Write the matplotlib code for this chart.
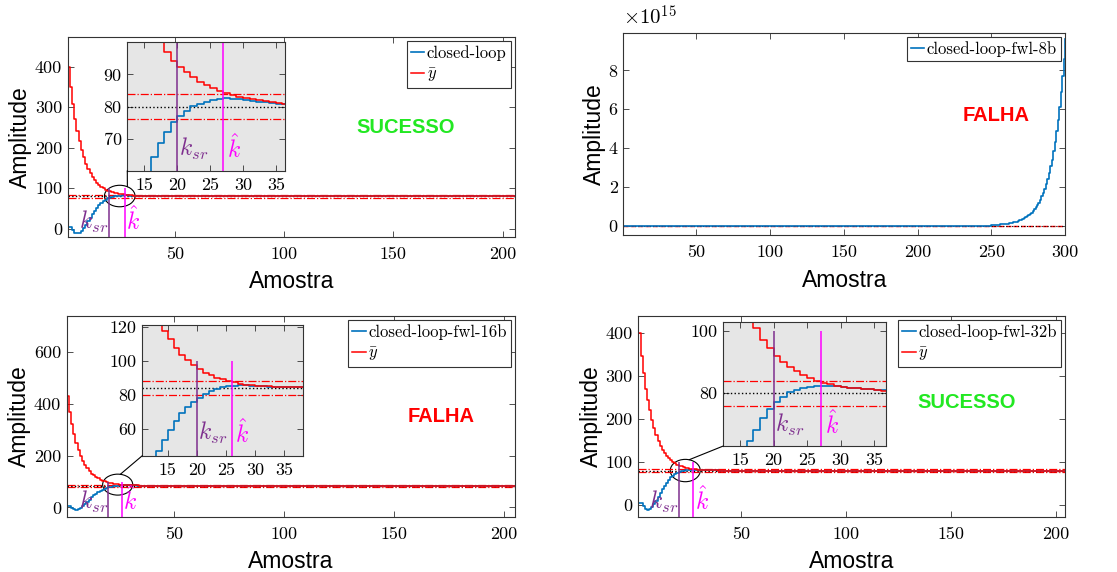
import numpy as np
import matplotlib
matplotlib.use('Agg')
import matplotlib.pyplot as plt
from matplotlib.patches import Ellipse, ConnectionPatch
import warnings
warnings.filterwarnings('ignore')

plt.rcParams['font.family'] = 'cmr10'
plt.rcParams['mathtext.fontset'] = 'cm'
plt.rcParams['axes.formatter.use_mathtext'] = False

# ---------------- data ----------------
# panel 1 : closed-loop (samples k = 1..45, then constant)
cl_y = [5, 4, -3, -9, -11, -10, -5, 2, 10, 19, 28, 37, 45, 52, 58.5, 64.2, 68.6, 72.0,
        75.1, 77.1, 78.7, 80.2, 80.9, 81.4, 82.0, 82.3, 82.5, 82.4, 82.2, 82.0, 81.8,
        81.5, 81.3, 81.1, 80.9, 80.8, 80.7, 80.6, 80.5, 80.4, 80.3, 80.2, 80.2, 80.1, 80.1]
cl_ybar = [400, 350, 308, 272, 242, 216, 194, 176, 161, 148, 137, 128, 120.5, 114,
           108.5, 104, 100.2, 97.0, 94.3, 92.3, 90.6, 89.1, 87.7, 86.6, 85.7, 84.8, 84.1,
           83.5, 83.0, 82.6, 82.2, 81.9, 81.6, 81.3, 81.1, 80.9, 80.8, 80.6, 80.5, 80.4,
           80.3, 80.2, 80.2, 80.1, 80.1]
cl_ref = 80.0

# panel 2 : closed-loop-fwl-8b (x 1e15), samples 250..300, ~0 before
fwl8_k0 = 250
fwl8_y = [0.028, 0.031, 0.035, 0.040, 0.045, 0.050, 0.057, 0.064, 0.072, 0.080, 0.090,
          0.105, 0.115, 0.130, 0.150, 0.165, 0.190, 0.210, 0.235, 0.265, 0.300, 0.335,
          0.375, 0.420, 0.470, 0.530, 0.600, 0.670, 0.750, 0.840, 0.940, 1.06, 1.19,
          1.34, 1.50, 1.70, 1.90, 2.15, 2.40, 2.70, 3.05, 3.40, 3.85, 4.30, 4.85, 5.45,
          6.10, 6.90, 7.70, 8.60, 9.60]

# panel 3 : closed-loop-fwl-16b
f16_y = [5, 4, -3, -8, -10, -8, -3, 4, 12, 21, 30, 38.5, 46.6, 53, 59, 64.6, 69, 72.6,
         75.6, 78.2, 80.6, 82.2, 83.4, 84.2, 84.8, 85.2, 85.4, 85.4, 85.2, 85.0, 84.9,
         84.7, 84.6, 84.5, 84.4, 84.4, 84.3, 84.2, 84.2, 84.1, 84.1, 84.0, 84.0]
f16_ybar = [431, 370, 322, 283, 250, 222, 200, 181, 165, 151, 139, 130.5, 123.5, 117.6,
            112.6, 107.6, 103.6, 100.6, 97.6, 95.0, 93.0, 91.4, 90.0, 89.0, 88.0, 87.2,
            86.5, 85.9, 85.5, 85.2, 85.0, 84.8, 84.7, 84.6, 84.5, 84.4, 84.4, 84.3, 84.2,
            84.2, 84.1, 84.1, 84.0]
f16_ref = 84.0

# panel 4 : closed-loop-fwl-32b
f32_y = [5, 4, -3, -9, -11, -10, -5, 2, 10, 19, 28, 37, 45, 52, 58.5, 64.5, 68.2, 72.0,
         74.9, 77.3, 78.9, 80.3, 81.1, 81.6, 82.0, 82.3, 82.4, 82.4, 82.2, 82.0, 81.8,
         81.6, 81.4, 81.2, 81.0, 80.9, 80.8, 80.6, 80.5, 80.4, 80.3, 80.2, 80.2, 80.1, 80.1]
f32_ybar = [400, 348, 307, 270, 245, 221, 198, 179, 163, 150, 138, 128.5, 120.5, 114,
            108.5, 104, 101.0, 97.1, 94.4, 92.1, 90.1, 88.5, 87.1, 85.9, 84.8, 83.9, 83.4,
            82.9, 82.4, 82.1, 81.8, 81.6, 81.4, 81.2, 81.0, 80.8, 80.7, 80.6, 80.5, 80.4,
            80.3, 80.2, 80.2, 80.1, 80.1]
f32_ref = 80.0

k_sr = [20, 20, 20]
k_hat = [27, 26, 27]
xticks_main = [50, 100, 150, 200]
xticks_inset = [15, 20, 25, 30, 35]

BLUE = '#0072BD'
RED = '#FF0000'
PURPLE = '#7E2F8E'
MAGENTA = '#FF00FF'
GREEN = '#22E822'
SANS = 'Liberation Sans'
W, H = 1117, 572

fig = plt.figure(figsize=(W / 100, H / 100), dpi=100)


def fr(x0, x1, y0, y1):
    return [x0 / W, 1 - y1 / H, (x1 - x0) / W, (y1 - y0) / H]


def style(ax, fs=13, xpad=7, ypad=4):
    ax.tick_params(direction='in', top=True, right=True, length=4, width=0.6,
                   labelsize=fs, color='0.2')
    ax.tick_params(axis='x', pad=xpad)
    ax.tick_params(axis='y', pad=ypad)
    for s in ax.spines.values():
        s.set_color('0.2')
        s.set_linewidth(0.8)


def stairs(ax, vals, end, **kw):
    k = list(range(1, len(vals) + 1)) + [end]
    v = list(vals) + [vals[-1]]
    ax.step(k, v, where='post', **kw)


def refs(ax, ref, x0, x1):
    ax.hlines([ref * 1.05, ref * 0.95], x0, x1, colors=RED, linestyles='-.', lw=0.9)
    ax.hlines(ref, x0, x1, colors='k', linestyles=':', lw=1.0)


def legend(ax):
    leg = ax.legend(loc='upper right', fontsize=12, handlelength=0.8, handletextpad=0.15,
                    borderpad=0.25, labelspacing=0.3, borderaxespad=0.25, fancybox=False,
                    framealpha=1)
    leg.get_frame().set_edgecolor('0.2')
    leg.get_frame().set_linewidth(0.8)


def labels(ax):
    ax.set_xlabel('Amostra', family=SANS, fontsize=16.5, labelpad=6)
    ax.set_ylabel('Amplitude', family=SANS, fontsize=16.5, labelpad=2)


def panel(box, ibox, y, ybar, ref, label, xlim, ylim, yticks, ixlim, iylim, iyticks,
          ksr, khat, ell, ang, status, scol, spos):
    ax = fig.add_axes(fr(*box))
    style(ax)
    refs(ax, ref, xlim[0], xlim[1])
    stairs(ax, y, 207, color=BLUE, lw=1.2, label=label)
    stairs(ax, ybar, 207, color=RED, lw=1.1, label=r'$\bar{y}$')
    ax.vlines(ksr, ylim[0], 100, color=PURPLE, lw=1.1)
    ax.vlines(khat, ylim[0], 100, color=MAGENTA, lw=1.1)
    ax.text(ksr - 0.3, ylim[0] + 0.01 * (ylim[1] - ylim[0]), r'$k_{sr}$', color=PURPLE,
            fontsize=17, ha='right', va='bottom')
    ax.text(khat + 0.8, ylim[0] + 0.01 * (ylim[1] - ylim[0]), r'$\hat{k}$', color=MAGENTA,
            fontsize=17, ha='left', va='bottom')
    e = Ellipse((ell[0], ell[1]), ell[2], ell[3], fill=False, ec='k', lw=0.8)
    ax.add_patch(e)
    ax.set_xlim(*xlim)
    ax.set_ylim(*ylim)
    ax.set_xticks(xticks_main)
    ax.set_yticks(yticks)
    labels(ax)
    legend(ax)
    ax.text(spos[0], spos[1], status, transform=ax.transAxes, color=scol, family=SANS,
            fontweight='bold', fontsize=14.5, ha='center', va='center')

    ia = fig.add_axes(fr(*ibox))
    ia.set_facecolor('#E6E6E6')
    style(ia, fs=13, xpad=5, ypad=4)
    refs(ia, ref, ixlim[0], ixlim[1])
    stairs(ia, y, 207, color=BLUE, lw=1.2)
    stairs(ia, ybar, 207, color=RED, lw=1.1)
    ia.vlines(ksr, 0, 100, color=PURPLE, lw=1.1)
    ia.vlines(khat, 0, 100, color=MAGENTA, lw=1.1)
    ytxt = iylim[0] + 0.17 * (iylim[1] - iylim[0])
    ia.text(ksr + 0.2, ytxt, r'$k_{sr}$', color=PURPLE, fontsize=17, ha='left', va='center')
    ia.text(khat + 0.6, ytxt, r'$\hat{k}$', color=MAGENTA, fontsize=17, ha='left', va='center')
    ia.set_xlim(*ixlim)
    ia.set_ylim(*iylim)
    ia.set_xticks(xticks_inset)
    ia.set_yticks(iyticks)

    t = np.deg2rad(ang)
    p = (ell[0] + ell[2] / 2 * np.cos(t), ell[1] + ell[3] / 2 * np.sin(t))
    con = ConnectionPatch(xyA=p, coordsA=ax.transData, xyB=(0, 0), coordsB=ia.transAxes,
                          color='k', lw=0.8)
    fig.add_artist(con)
    return ax


panel((67.7, 515, 37, 237), (127.3, 285, 42.3, 170.7), cl_y, cl_ybar, cl_ref,
      'closed-loop', (1.0, 205.6), (-20, 473), [0, 100, 200, 300, 400],
      (12.4, 36.4), (60, 100), [70, 80, 90], k_sr[0], k_hat[0],
      (24.8, 81, 14, 53), 60, 'SUCESSO', GREEN, (0.755, 0.55))

panel((66.7, 515, 316, 516.7), (142.3, 303.3, 325, 455.7), f16_y, f16_ybar, f16_ref,
      'closed-loop-fwl-16b', (1.0, 205), (-36, 740), [0, 200, 400, 600],
      (10.6, 38.3), (44, 121), [60, 80, 100, 120], k_sr[1], k_hat[1],
      (24.2, 88, 13.7, 81), 80, 'FALHA', RED, (0.835, 0.5))

panel((638.3, 1065, 316, 516.7), (723.3, 885.7, 321.7, 446), f32_y, f32_ybar, f32_ref,
      'closed-loop-fwl-32b', (0.8, 204.3), (-27, 440), [0, 100, 200, 300, 400],
      (12.5, 36.7), (63, 103), [80, 100], k_sr[2], k_hat[2],
      (23.2, 80.4, 14.3, 52), 75, 'SUCESSO', GREEN, (0.77, 0.57))

# panel 2
ax2 = fig.add_axes(fr(623.3, 1065, 32.7, 235.3))
style(ax2)
ax2.axhline(0, color=RED, ls='--', lw=1.0)
ax2.axhline(0, color='k', ls=':', lw=0.8)
k2 = [1] + list(range(fwl8_k0, fwl8_k0 + len(fwl8_y)))
v2 = [0.0] + fwl8_y
ax2.step(k2, v2, where='post', color=BLUE, lw=1.2, label='closed-loop-fwl-8b')
ax2.set_xlim(0.4, 300)
ax2.set_ylim(-0.5, 9.94)
ax2.set_xticks([50, 100, 150, 200, 250, 300])
ax2.set_yticks([0, 2, 4, 6, 8])
labels(ax2)
ax2.text(0.0, 1.02, r'$\times10^{15}$', transform=ax2.transAxes, fontsize=15,
         ha='left', va='bottom')
legend(ax2)
ax2.text(0.845, 0.59, 'FALHA', transform=ax2.transAxes, color=RED, family=SANS,
         fontweight='bold', fontsize=14.5, ha='center', va='center')

fig.savefig('out.png', dpi=100)
